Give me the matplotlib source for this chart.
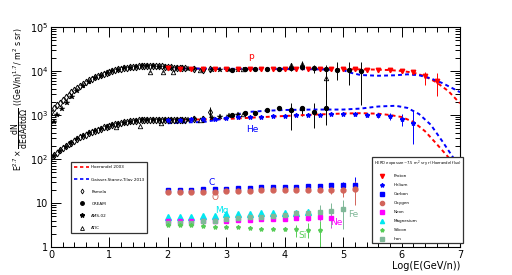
import matplotlib
matplotlib.use("Agg")
import matplotlib.pyplot as plt
import numpy as np
from matplotlib.lines import Line2D
from matplotlib.ticker import FixedLocator, FixedFormatter, MultipleLocator, LogLocator, NullFormatter

# ---------------- data (log10 E in GeV/n, E^2.7 weighted flux) ----------------
# Pamela (diamonds)
pam_p_x = [0.00, 0.05, 0.10, 0.15, 0.20, 0.25, 0.30, 0.35, 0.40, 0.45, 0.50, 0.55, 0.60, 0.65,
           0.70, 0.75, 0.80, 0.85, 0.90, 0.95, 1.00, 1.05, 1.10, 1.15, 1.20, 1.25, 1.30, 1.35,
           1.40, 1.45, 1.50, 1.55, 1.60, 1.65, 1.70, 1.75, 1.80, 1.85, 1.90, 1.95, 2.00, 2.05,
           2.10, 2.15, 2.20, 2.25, 2.30, 2.45, 2.60, 2.72]
pam_p_y = [1200, 1420, 1650, 1920, 2200, 2550, 2900, 3300, 3700, 4150, 4600, 5100, 5600, 6100,
           6600, 7150, 7700, 8200, 8700, 9150, 9600, 10050, 10500, 10850, 11200, 11500, 11800,
           12050, 12300, 12500, 12700, 12850, 13000, 13050, 13100, 13050, 13000, 12900, 12800,
           12600, 12400, 12200, 12000, 11850, 11700, 11550, 11400, 11000, 10800, 11200]
pam_he_x = [0.00, 0.05, 0.10, 0.15, 0.20, 0.25, 0.30, 0.35, 0.40, 0.45, 0.50, 0.55, 0.60, 0.65,
            0.70, 0.75, 0.80, 0.85, 0.90, 0.95, 1.00, 1.05, 1.10, 1.15, 1.20, 1.25, 1.30, 1.35,
            1.40, 1.45, 1.50, 1.55, 1.60, 1.65, 1.70, 1.75, 1.80, 1.85, 1.90, 1.95, 2.00, 2.05,
            2.10, 2.15, 2.20, 2.25, 2.30, 2.45, 2.60, 2.72]
pam_he_y = [112, 125, 140, 157, 175, 195, 215, 237, 260, 285, 310, 335, 360, 385, 410, 435, 460,
            490, 520, 545, 570, 595, 620, 640, 660, 680, 700, 715, 730, 740, 750, 760, 770, 775,
            780, 785, 790, 790, 790, 790, 790, 785, 780, 780, 780, 785, 790, 800, 810, 1180]
pam_he_lo = [112, 125, 140, 157, 175, 195, 215, 237, 260, 285, 310, 335, 360, 385, 410, 435, 460,
             490, 520, 545, 570, 595, 620, 640, 660, 680, 700, 715, 730, 740, 750, 760, 770, 775,
             780, 785, 790, 790, 790, 790, 790, 785, 780, 780, 780, 785, 790, 770, 760, 840]
pam_he_hi = [112, 125, 140, 157, 175, 195, 215, 237, 260, 285, 310, 335, 360, 385, 410, 435, 460,
             490, 520, 545, 570, 595, 620, 640, 660, 680, 700, 715, 730, 740, 750, 760, 770, 775,
             780, 785, 790, 790, 790, 790, 790, 785, 780, 780, 780, 785, 790, 830, 870, 1490]

# AMS-02 (stars)
ams_p_x = [0.05, 0.1, 0.19, 0.27, 0.36, 0.45, 0.55, 0.65, 0.75, 0.85, 0.95, 1.05, 1.15, 1.25, 1.35,
           1.45, 1.55, 1.65, 1.75, 1.85, 1.95, 2.05, 2.15, 2.25, 2.35, 2.45, 2.6, 2.75, 2.9, 3.05, 3.2]
ams_p_y = [690, 1000, 1380, 1860, 2570, 3550, 4570, 5750, 6760, 7800, 8900, 10000, 10800, 11500,
           12000, 12400, 12700, 12800, 12800, 12600, 12300, 12000, 11700, 11400, 11100, 10900,
           10800, 10600, 10400, 10300, 10500]
ams_he_x = [0.05, 0.15, 0.25, 0.35, 0.45, 0.55, 0.65, 0.75, 0.85, 0.95, 1.05, 1.15, 1.25, 1.35,
            1.45, 1.55, 1.65, 1.75, 1.85, 1.95, 2.05, 2.15, 2.25, 2.35, 2.45, 2.6, 2.75, 2.9, 3.05, 3.2]
ams_he_y = [118, 152, 190, 235, 285, 335, 385, 435, 490, 540, 590, 635, 675, 710, 735, 755, 770,
            780, 785, 785, 780, 775, 780, 790, 800, 820, 850, 880, 960, 1020]

# CREAM (circles)
cream_p_x = [3.09, 3.32, 3.49, 3.69, 3.9, 4.1, 4.3, 4.5, 4.71, 4.9, 5.1, 5.3]
cream_p_y = [10700, 11000, 11000, 11200, 11200, 12000, 12600, 11700, 11000, 10700, 10800, 9800]
cream_p_lo = [10200, 10500, 10500, 10600, 10500, 10000, 10500, 9000, 2570, 6300, 4790, 1700]
cream_p_hi = [11200, 11500, 11500, 11800, 12000, 14000, 15000, 14000, 13800, 16200, 16200, 16200]
cream_he_x = [3.09, 3.32, 3.49, 3.69, 3.9, 4.1, 4.3, 4.5, 4.71]
cream_he_y = [1000, 1120, 1100, 1290, 1410, 1290, 1410, 1180, 1410]
cream_he_lo = [950, 1050, 1030, 1200, 1300, 457, 930, 500, 600]
cream_he_hi = [1050, 1190, 1170, 1380, 1520, 1860, 1600, 1860, 2240]

# ATIC (open triangles)
atic_p_x = [1.69, 1.92, 2.09, 2.55, 3.28, 4.1, 4.3, 4.71]
atic_p_y = [9600, 9600, 9500, 10300, 11000, 13700, 14800, 6800]
atic_p_lo = [9400, 9400, 9300, 10000, 10500, 12000, 13000, 1550]
atic_p_hi = [9800, 9800, 9700, 10600, 11500, 15500, 16500, 10700]
atic_he_x = [1.12, 1.52, 1.89, 2.55, 3.28, 4.1, 4.3]
atic_he_y = [540, 560, 660, 760, 1050, 1350, 1450]

# Model curves
hoer_p_x = [2.0, 2.5, 3.0, 3.5, 4.0, 4.5, 5.0, 5.5, 5.8, 6.0, 6.2, 6.4, 6.6, 6.8, 7.0]
hoer_p_y = [11500, 11300, 11100, 11000, 11000, 11000, 11000, 10800, 10500, 10000, 9200, 7600,
            5500, 3500, 1850]
gst_p_x = [2.0, 3.0, 4.0, 4.6, 5.0, 5.1, 5.3, 5.6, 5.9, 6.1, 6.3, 6.5, 6.7, 6.85, 7.0]
gst_p_y = [11500, 11200, 11200, 10900, 10500, 9300, 8100, 7800, 8000, 8400, 8000, 6800, 5300,
           4200, 3300]
hoer_he_x = [2.0, 2.5, 3.0, 3.5, 4.0, 4.5, 5.0, 5.3, 5.6, 5.8, 6.0, 6.2, 6.4, 6.6, 6.8, 7.0]
hoer_he_y = [780, 790, 810, 880, 950, 1020, 1080, 1100, 1070, 1000, 900, 700, 430, 220, 110, 55]
gst_he_x = [2.0, 2.3, 2.6, 2.8, 3.0, 3.2, 3.4, 3.7, 4.0, 4.5, 5.0, 5.3, 5.6, 5.9, 6.1, 6.3, 6.5,
            6.7, 6.9, 7.0]
gst_he_y = [650, 680, 690, 760, 850, 1050, 1180, 1250, 1300, 1330, 1330, 1400, 1560, 1620, 1450,
            1050, 600, 250, 100, 60]

# HERD expected points
herd_p_x = [2.0, 2.2, 2.4, 2.6, 2.8, 3.0, 3.2, 3.4, 3.6, 3.8, 4.0, 4.2, 4.4, 4.6, 4.8, 5.0, 5.2,
            5.4, 5.6, 5.8, 6.0, 6.2, 6.4, 6.6]
herd_p_y = [11400, 11300, 11200, 11100, 11100, 11000, 11000, 11000, 11000, 11000, 11000, 11000,
            11000, 11000, 11000, 11000, 10900, 10800, 10600, 10400, 10000, 9400, 7700, 5900]
herd_p_lo = [11400, 11300, 11200, 11100, 11100, 11000, 11000, 11000, 11000, 11000, 11000, 11000,
             11000, 11000, 10800, 10800, 10600, 10400, 10100, 9800, 9200, 8300, 4800, 2650]
herd_p_hi = [11400, 11300, 11200, 11100, 11100, 11000, 11000, 11000, 11000, 11000, 11000, 11000,
             11000, 11000, 11200, 11200, 11200, 11200, 11100, 11000, 10800, 10500, 9550, 8900]
herd_he_x = [2.0, 2.2, 2.4, 2.6, 2.8, 3.0, 3.2, 3.4, 3.6, 3.8, 4.0, 4.2, 4.4, 4.6, 4.8, 5.0, 5.2,
             5.4, 5.6, 5.8, 6.0, 6.2]
herd_he_y = [780, 790, 800, 810, 830, 850, 880, 900, 920, 940, 960, 980, 1000, 1010, 1030, 1040,
             1050, 1000, 1000, 960, 830, 660]
herd_he_lo = [780, 790, 800, 810, 830, 850, 880, 900, 920, 940, 960, 980, 980, 980, 980, 980, 960,
              900, 870, 780, 560, 220]
herd_he_hi = [780, 790, 800, 810, 830, 850, 880, 900, 920, 940, 960, 980, 1020, 1040, 1080, 1100,
              1150, 1120, 1130, 1100, 1080, 1300]

nuc_x = [2.0, 2.2, 2.4, 2.6, 2.8, 3.0, 3.2, 3.4, 3.6, 3.8, 4.0, 4.2, 4.4, 4.6, 4.8, 5.0, 5.2]
c_y = [19.7, 19.8, 20.0, 20.3, 20.6, 21.2, 21.6, 22.5, 22.8, 23.0, 23.5, 23.5, 24.0, 24.5, 25.0,
       26.0, 26.0]
c_lo = [19.7, 19.8, 20.0, 20.3, 20.6, 21.2, 21.6, 22.5, 22.8, 23.0, 23.5, 23.0, 23.0, 22.8, 22.5,
        22.3, 19.0]
c_hi = [19.7, 19.8, 20.0, 20.3, 20.6, 21.2, 21.6, 22.5, 22.8, 23.0, 23.5, 24.0, 25.0, 26.5, 28.0,
        30.0, 38.0]
o_y = [17.5, 17.6, 17.7, 17.8, 18.0, 18.3, 18.6, 19.0, 19.5, 19.8, 20.0, 20.0, 20.0, 20.0, 20.0,
       20.0, 20.5]
o_lo = [17.5, 17.6, 17.7, 17.8, 18.0, 18.3, 18.6, 19.0, 19.5, 19.8, 20.0, 19.5, 18.8, 18.0, 16.0,
        14.0, 9.0]
o_hi = [17.5, 17.6, 17.7, 17.8, 18.0, 18.3, 18.6, 19.0, 19.5, 19.8, 20.0, 20.5, 21.3, 22.5, 25.0,
        28.0, 32.0]
mg_x = [2.0, 2.2, 2.4, 2.6, 2.8, 3.0, 3.2, 3.4, 3.6, 3.8, 4.0, 4.2, 4.4]
mg_y = [4.7, 4.8, 4.9, 5.0, 5.1, 5.5, 5.6, 5.7, 5.8, 5.9, 5.9, 6.0, 6.2]
mg_lo = [4.5, 4.6, 4.7, 4.8, 4.9, 5.2, 5.3, 5.4, 5.5, 5.5, 5.5, 5.5, 5.5]
mg_hi = [4.9, 5.0, 5.1, 5.2, 5.3, 5.8, 5.9, 6.0, 6.2, 6.3, 6.4, 6.6, 7.3]
ne_x = [2.0, 2.2, 2.4, 2.6, 2.8, 3.0, 3.2, 3.4, 3.6, 3.8, 4.0, 4.2, 4.4, 4.6, 4.8]
ne_y = [3.9, 3.9, 3.9, 3.95, 4.0, 4.0, 4.1, 4.2, 4.4, 4.4, 4.4, 4.6, 4.5, 4.7, 4.5]
ne_lo = [3.8, 3.8, 3.8, 3.85, 3.9, 3.9, 4.0, 4.05, 4.2, 4.2, 4.1, 4.2, 3.9, 3.9, 2.7]
ne_hi = [4.0, 4.0, 4.0, 4.05, 4.1, 4.1, 4.2, 4.35, 4.6, 4.6, 4.7, 5.0, 5.1, 5.5, 6.3]
si_x = [2.0, 2.2, 2.4, 2.6, 2.8, 3.0, 3.2, 3.4, 3.6, 3.8, 4.0, 4.2, 4.4, 4.6]
si_y = [3.2, 3.2, 3.1, 3.0, 2.9, 2.9, 2.8, 2.7, 2.6, 2.6, 2.6, 2.6, 2.4, 2.4]
si_lo = [3.1, 3.1, 3.0, 2.9, 2.8, 2.8, 2.7, 2.6, 2.5, 2.4, 2.3, 1.7, 1.6, 1.0]
si_hi = [3.3, 3.3, 3.2, 3.1, 3.0, 3.0, 2.9, 2.8, 2.7, 2.8, 2.9, 3.2, 3.5, 3.8]
fe_x = [2.0, 2.2, 2.4, 2.6, 2.8, 3.0, 3.2, 3.4, 3.6, 3.8, 4.0, 4.2, 4.4, 4.6, 4.8, 5.0]
fe_y = [3.5, 3.5, 3.6, 3.8, 4.0, 4.3, 4.5, 4.7, 4.9, 5.0, 5.2, 5.9, 6.0, 6.3, 6.5, 7.2]
fe_lo = [3.4, 3.4, 3.5, 3.7, 3.9, 4.1, 4.3, 4.5, 4.6, 4.7, 4.8, 5.3, 5.2, 4.1, 2.9, 2.5]
fe_hi = [3.6, 3.6, 3.7, 3.9, 4.1, 4.5, 4.7, 4.9, 5.2, 5.3, 5.6, 6.5, 7.0, 9.0, 9.8, 11.7]

# ---------------- figure ----------------
RED = "#ff0000"
BLUE = "#0000ff"
O_COL = "#d2645a"
NE_COL = "#ff00ff"
MG_COL = "#00e8f0"
SI_COL = "#55cc55"
FE_COL = "#80b898"

fig = plt.figure(figsize=(5.12, 2.75), dpi=100)
ax = fig.add_axes([51 / 512, 28 / 275, 409 / 512, 220 / 275])
ax.set_yscale("log")
ax.set_xlim(0, 7)
ax.set_ylim(1, 1e5)


def eb(x, y, lo=None, hi=None, **kw):
    x = np.asarray(x, float)
    y = np.asarray(y, float)
    if lo is not None:
        yerr = [y - np.asarray(lo, float), np.asarray(hi, float) - y]
    else:
        yerr = None
    ax.errorbar(x, y, yerr=yerr, capsize=0, elinewidth=0.7, linestyle="none", **kw)


# black reference data
eb(pam_p_x, pam_p_y, marker="d", ms=3.4, mfc="none", mec="k", mew=0.7, color="k")
eb(pam_he_x, pam_he_y, pam_he_lo, pam_he_hi, marker="d", ms=3.4, mfc="none", mec="k", mew=0.7,
   color="k")
eb(ams_p_x, ams_p_y, marker="*", ms=4.0, color="k", mew=0.3)
eb(ams_he_x, ams_he_y, marker="*", ms=4.0, color="k", mew=0.3)
eb(cream_p_x, cream_p_y, cream_p_lo, cream_p_hi, marker="o", ms=2.8, color="k", mfc="k")
eb(cream_he_x, cream_he_y, cream_he_lo, cream_he_hi, marker="o", ms=2.8, color="k", mfc="k")
eb(atic_p_x, atic_p_y, atic_p_lo, atic_p_hi, marker="^", ms=3.2, mfc="none", mec="k", mew=0.6,
   color="k")
eb(atic_he_x, atic_he_y, marker="^", ms=3.2, mfc="none", mec="k", mew=0.6, color="k")

# HERD points
eb(herd_p_x, herd_p_y, herd_p_lo, herd_p_hi, marker="v", ms=3.2, color=RED)
eb(herd_he_x, herd_he_y, herd_he_lo, herd_he_hi, marker="*", ms=3.2, color=BLUE)
eb(nuc_x, c_y, c_lo, c_hi, marker="s", ms=3.5, color=BLUE)
eb(nuc_x, o_y, o_lo, o_hi, marker="o", ms=3.5, color=O_COL)
eb(mg_x, mg_y, mg_lo, mg_hi, marker="^", ms=3.7, color=MG_COL)
eb(ne_x, ne_y, ne_lo, ne_hi, marker="s", ms=3.5, color=NE_COL)
eb(fe_x, fe_y, fe_lo, fe_hi, marker="s", ms=3.5, color=FE_COL)
eb(si_x, si_y, si_lo, si_hi, marker="*", ms=3.0, color=SI_COL)

# model curves
dash = dict(lw=1.4, dashes=(2.0, 1.6))
ax.plot(hoer_p_x, hoer_p_y, color=RED, **dash)
ax.plot(gst_p_x, gst_p_y, color=BLUE, **dash)
ax.plot(hoer_he_x, hoer_he_y, color=RED, **dash)
ax.plot(gst_he_x, gst_he_y, color=BLUE, **dash)

# element labels
lab_kw = dict(fontsize=6.5, ha="center", va="center")
ax.text(3.42, 21000, "p", color=RED, **lab_kw)
ax.text(3.45, 480, "He", color=BLUE, **lab_kw)
ax.text(2.75, 30, "C", color=BLUE, **lab_kw)
ax.text(2.8, 13.5, "O", color=O_COL, **lab_kw)
ax.text(2.92, 6.6, "Mg", color=MG_COL, **lab_kw)
ax.text(4.31, 1.85, "Si", color=SI_COL, **lab_kw)
ax.text(4.89, 3.6, "Ne", color=NE_COL, **lab_kw)
ax.text(5.18, 5.6, "Fe", color=FE_COL, **lab_kw)

# axes styling
ax.yaxis.set_major_locator(FixedLocator([1, 10, 100, 1e3, 1e4, 1e5]))
ax.yaxis.set_major_formatter(FixedFormatter(["1", "10", "$10^{2}$", "$10^{3}$", "$10^{4}$",
                                             "$10^{5}$"]))
ax.yaxis.set_minor_locator(LogLocator(base=10, subs=np.arange(2, 10)))
ax.yaxis.set_minor_formatter(NullFormatter())
ax.xaxis.set_major_locator(MultipleLocator(1))
ax.xaxis.set_minor_locator(MultipleLocator(0.2))
ax.tick_params(which="both", direction="in", top=True, right=True, width=0.7)
ax.tick_params(which="major", length=7, labelsize=7, pad=2)
ax.tick_params(which="minor", length=3.5)
for s in ax.spines.values():
    s.set_linewidth(0.8)

ax.set_xlabel("Log(E(GeV/n))", fontsize=7, loc="right", labelpad=1)
fig.text(20 / 512, 1 - 28 / 275,
         r"$\mathrm{E}^{2.7}\times\dfrac{\mathrm{dN}}{\mathrm{dEdAdtd}\Omega}$ ((GeV/n)$^{1.7}$/ m$^{2}$ s sr)",
         rotation=90, ha="center", va="top", fontsize=5.6)

# legends
h_left = [
    Line2D([], [], color=RED, lw=1.2, dashes=(2, 1.6)),
    Line2D([], [], color=BLUE, lw=1.2, dashes=(2, 1.6)),
    Line2D([], [], ls="none", marker="d", ms=2.5, mfc="none", mec="k", mew=0.6),
    Line2D([], [], ls="none", marker="o", ms=2.5, color="k"),
    Line2D([], [], ls="none", marker="*", ms=3.2, color="k"),
    Line2D([], [], ls="none", marker="^", ms=2.8, mfc="none", mec="k", mew=0.6),
]
l_left = ["Hoerandel 2003", "Gaisser-Stanev-Tilav 2013", "Pamela", "CREAM", "AMS-02", "ATIC"]
leg1 = ax.legend(h_left, l_left, loc="upper left",
                 bbox_to_anchor=(20 / 409, 1 - (164.3 - 27) / 220, 76 / 409, 0.01),
                 mode="expand", borderaxespad=0, fontsize=3.0, labelspacing=1.95,
                 borderpad=0.8, handlelength=3.6, handletextpad=0.5, fancybox=False,
                 framealpha=1, edgecolor="#333333")
leg1.get_frame().set_linewidth(0.9)
ax.add_artist(leg1)

h_right = [
    Line2D([], [], ls="none", marker="v", ms=3.0, color=RED),
    Line2D([], [], ls="none", marker="*", ms=3.0, color=BLUE),
    Line2D([], [], ls="none", marker="s", ms=3.0, color=BLUE),
    Line2D([], [], ls="none", marker="o", ms=3.0, color=O_COL),
    Line2D([], [], ls="none", marker="s", ms=3.0, color=NE_COL),
    Line2D([], [], ls="none", marker="^", ms=3.0, color=MG_COL),
    Line2D([], [], ls="none", marker="*", ms=2.8, color=SI_COL),
    Line2D([], [], ls="none", marker="s", ms=3.0, color=FE_COL),
]
l_right = ["Proton", "Helium", "Carbon", "Oxygen", "Neon", "Magnesium", "Silicon", "Iron"]
leg2 = ax.legend(h_right, l_right, loc="upper left",
                 bbox_to_anchor=((372 - 51) / 409, 1 - (159 - 27) / 220, 91 / 409, 0.01),
                 mode="expand", borderaxespad=0, fontsize=3.0, labelspacing=1.2,
                 borderpad=0.5, handlelength=4.0, handletextpad=0.8, fancybox=False,
                 framealpha=1, edgecolor="#333333",
                 title=r"HERD exposure~7.5 m$^{2}$ sr yr (Hoerandel flux)",
                 title_fontsize=2.7)
leg2.get_frame().set_linewidth(0.9)
leg2.set_clip_on(False)

fig.savefig("out.png", dpi=100)
